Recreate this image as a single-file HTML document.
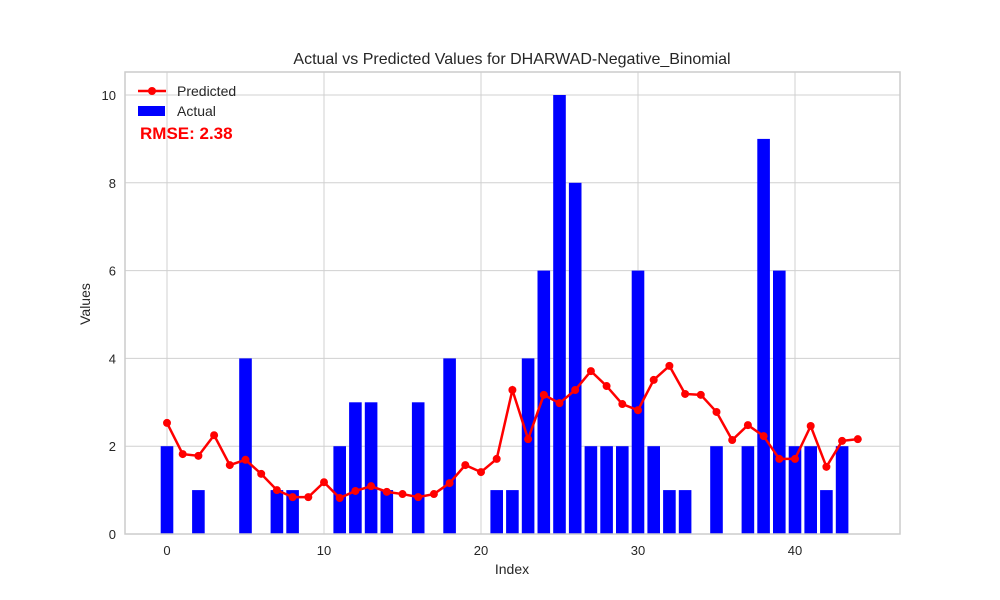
<!DOCTYPE html>
<html><head><meta charset="utf-8"><style>
body{margin:0;background:#fff;}
svg{display:block;font-family:"Liberation Sans",sans-serif;}
</style></head><body>
<svg id="chart" width="1000" height="600"></svg>
<script>
const indices=[];for(let i=0;i<45;i++)indices.push(i);
const actual=[2,0,1,0,0,4,0,1,1,0,0,2,3,3,1,0,3,0,4,0,0,1,1,4,6,10,8,2,2,2,6,2,1,1,0,2,0,2,9,6,2,2,1,2,0];
const predicted=[2.53,1.82,1.78,2.25,1.57,1.69,1.37,1.0,0.84,0.84,1.18,0.82,0.98,1.09,0.96,0.91,0.84,0.91,1.16,1.57,1.41,1.71,3.28,2.16,3.17,2.98,3.28,3.71,3.37,2.96,2.82,3.51,3.83,3.19,3.17,2.78,2.14,2.48,2.23,1.71,1.71,2.46,1.53,2.12,2.16];
const xTicks=[0,10,20,30,40];
const yTicks=[0,2,4,6,8,10];
const NS="http://www.w3.org/2000/svg";
const svg=document.getElementById('chart');
const L=125,R=900,T=72,B=534;
const X=v=>167+v*15.7;
const Y=v=>534-v*43.9;
function mk(tag,attrs,parent){const e=document.createElementNS(NS,tag);for(const k in attrs)e.setAttribute(k,attrs[k]);(parent||svg).appendChild(e);return e;}
const bg=mk('rect',{x:L,y:T,width:R-L,height:B-T,fill:'#fff'});


xTicks.forEach(t=>{
 const g=mk('line',{x1:X(t),x2:X(t),y1:T,y2:B,stroke:'#d0d0d0','stroke-width':1});
 
 
 const lb=mk('text',{x:X(t),y:555,'text-anchor':'middle','font-size':13,fill:'#262626'});lb.textContent=t;
 
 
});
yTicks.forEach(t=>{
 const g=mk('line',{x1:L,x2:R,y1:Y(t),y2:Y(t),stroke:'#d0d0d0','stroke-width':1});
 
 
 const lb=mk('text',{x:116,y:Y(t)+5,'text-anchor':'end','font-size':13,fill:'#262626'});lb.textContent=t;
 
 
});
indices.forEach((i,k)=>{
 const v=actual[k];if(!v)return;
 const b=mk('rect',{x:X(i)-6.3,y:Y(v),width:12.6,height:Y(0)-Y(v),fill:'#0000ff'});
 
 
});
const pl=mk('polyline',{points:indices.map((i,k)=>X(i)+','+Y(predicted[k])).join(' '),fill:'none',stroke:'#ff0000','stroke-width':2.5});


indices.forEach((i,k)=>{
 const c=mk('circle',{cx:X(i),cy:Y(predicted[k]),r:4,fill:'#ff0000'});
 
 
});
const fr=mk('rect',{x:L,y:T,width:R-L,height:B-T,fill:'none',stroke:'#cccccc','stroke-width':1.5});


const title=mk('text',{x:512,y:64,'text-anchor':'middle','font-size':16,fill:'#262626'});title.textContent='Actual vs Predicted Values for DHARWAD-Negative_Binomial';


const xl=mk('text',{x:512,y:574,'text-anchor':'middle','font-size':14,fill:'#262626'});xl.textContent='Index';


const yl=mk('text',{x:90,y:304,'text-anchor':'middle','font-size':14,fill:'#262626',transform:'rotate(-90 90 304)'});yl.textContent='Values';


const lg=mk('g',{});


mk('line',{x1:138,x2:166,y1:91,y2:91,stroke:'#ff0000','stroke-width':2.5},lg);
mk('circle',{cx:152,cy:91,r:4,fill:'#ff0000'},lg);
const t1=mk('text',{x:177,y:96,'font-size':14,fill:'#262626'},lg);t1.textContent='Predicted';


mk('rect',{x:138,y:106,width:27,height:10,fill:'#0000ff'},lg);
const t2=mk('text',{x:177,y:116,'font-size':14,fill:'#262626'},lg);t2.textContent='Actual';


const rm=mk('text',{x:140,y:139,'font-size':17,'font-weight':'bold',fill:'#ff0000'});rm.textContent='RMSE: 2.38';


</script>
</body></html>
